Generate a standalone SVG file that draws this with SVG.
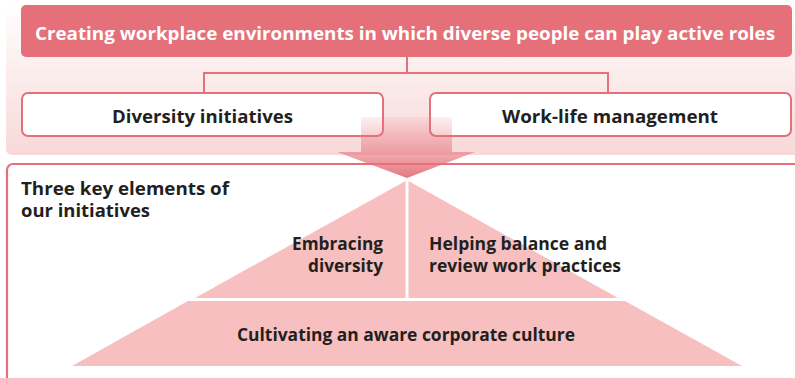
<svg xmlns="http://www.w3.org/2000/svg" width="795" height="378" viewBox="0 0 795 378">
<defs>
<linearGradient id="bg" x1="0" y1="0" x2="0" y2="1">
<stop offset="0" stop-color="#ffffff"/>
<stop offset="0.35" stop-color="#fdf1f1"/>
<stop offset="1" stop-color="#f8d9d9"/>
</linearGradient>
<linearGradient id="shaft" x1="0" y1="117" x2="0" y2="178" gradientUnits="userSpaceOnUse">
<stop offset="0" stop-color="#e5707a" stop-opacity="0.1"/>
<stop offset="0.5" stop-color="#e5707a" stop-opacity="0.5"/>
<stop offset="1" stop-color="#e5707a" stop-opacity="0.95"/>
</linearGradient>
</defs>
<style>
.t{font-family:"Open Sans","Noto Sans","Liberation Sans",sans-serif;font-weight:700;fill:#231f20}
.w{fill:#ffffff}
.c{fill:none;stroke:#e5707a;stroke-width:2}
.box{fill:#ffffff;stroke:#e5707a;stroke-width:2}
.pyr{fill:#f7bfbf}
</style>
<rect x="6" y="4" width="800" height="151" rx="6" fill="url(#bg)"/>
<g id="lower-panel">
<rect x="7" y="164" width="800" height="220" rx="6" fill="#ffffff" stroke="#e5707a" stroke-width="2.2"/>
<text class="t" x="21" y="195" font-size="17.5" textLength="208" lengthAdjust="spacingAndGlyphs">Three key elements of</text>
<text class="t" x="21" y="217" font-size="17.5" textLength="129" lengthAdjust="spacingAndGlyphs">our initiatives</text>
</g>
<g id="connectors">
<path class="c" d="M407 57V73M204 93V73H608V93"/>
</g>
<g id="top">
<rect x="21" y="5" width="771" height="52" rx="5" fill="#e5707a"/>
<text class="t w" x="405" y="40" font-size="18" text-anchor="middle" textLength="740" lengthAdjust="spacingAndGlyphs">Creating workplace environments in which diverse people can play active roles</text>
</g>
<g id="diversity">
<rect class="box" x="22" y="93" width="361" height="43" rx="6"/>
<text class="t" x="202.5" y="123" font-size="18" text-anchor="middle" textLength="181" lengthAdjust="spacingAndGlyphs">Diversity initiatives</text>
</g>
<g id="worklife">
<rect class="box" x="430" y="93" width="361" height="43" rx="6"/>
<text class="t" x="610" y="123" font-size="18" text-anchor="middle" textLength="216" lengthAdjust="spacingAndGlyphs">Work-life management</text>
</g>
<g id="arrow">
<path d="M361 117H452V152H475L407 178L337 152H361Z" fill="url(#shaft)"/>
</g>
<g id="pyramid">
<path class="pyr" d="M405.5 181V298H195Z"/>
<path class="pyr" d="M408.5 181V298H618Z"/>
<path class="pyr" d="M188 301H625L742 366H72Z"/>
<text class="t" x="383" y="250" font-size="17.5" text-anchor="end" textLength="91" lengthAdjust="spacingAndGlyphs">Embracing</text>
<text class="t" x="383" y="272" font-size="17.5" text-anchor="end" textLength="75" lengthAdjust="spacingAndGlyphs">diversity</text>
<text class="t" x="429" y="250" font-size="17.5" textLength="178" lengthAdjust="spacingAndGlyphs">Helping balance and</text>
<text class="t" x="429" y="272" font-size="17.5" textLength="192" lengthAdjust="spacingAndGlyphs">review work practices</text>
<text class="t" x="406" y="341" font-size="17.5" text-anchor="middle" textLength="338" lengthAdjust="spacingAndGlyphs">Cultivating an aware corporate culture</text>
</g>
</svg>
